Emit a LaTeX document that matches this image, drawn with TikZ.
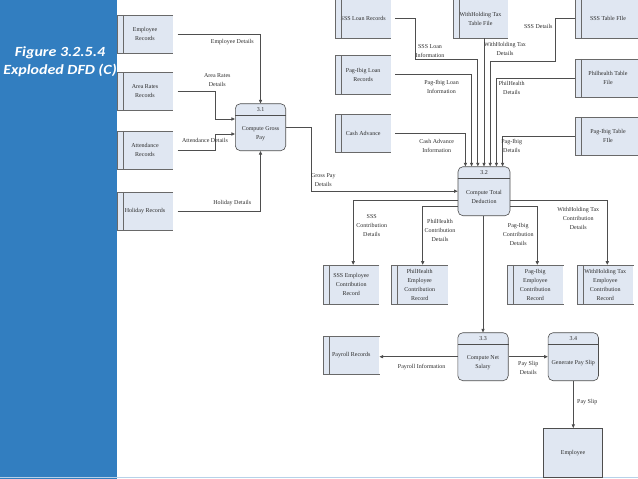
\documentclass[tikz,border=0pt]{standalone}
\usepackage{fontspec}
\setmainfont{Liberation Serif}
\newfontfamily\panelfont[FakeStretch=1.14]{Carlito}
\usetikzlibrary{arrows.meta, positioning, calc}
\definecolor{cPanel} {RGB}{50,126,192}
\definecolor{cStore} {RGB}{224,231,242}
\definecolor{cLine}  {RGB}{78,78,78}
\definecolor{cText}  {RGB}{45,45,45}

\begin{document}
\begin{tikzpicture}[
  x=1pt, y=-1pt,
  >={Triangle[length=3.6pt, width=3.2pt]},
  % ── data stores (open on the right side)
  store/.style={
    fill=cStore, align=center, inner sep=1pt, text=cText,
    font=\fontsize{6}{9}\selectfont,
    minimum width=56pt, minimum height=38pt
  },
  storeln/.style={draw=cLine!85, line width=0.6pt},
  % ── processes
  proc/.style={
    draw=cLine, fill=cStore, rounded corners=5pt, line width=0.6pt,
    minimum width=50.4pt, minimum height=47pt
  },
  entity/.style={
    draw=cLine, fill=cStore, line width=0.6pt, text=cText,
    font=\fontsize{6}{9}\selectfont,
    minimum width=59.4pt, minimum height=49pt
  },
  % ── flows
  flow/.style  ={->, draw=cLine, line width=0.7pt},
  fromst/.style={flow, shorten <=4.5pt},
  % ── labels
  lbl/.style={font=\fontsize{6}{9}\selectfont, text=cText, align=center, inner sep=0pt},
]
\useasboundingbox (0,0) rectangle (638,479);

%% ═══════════════════════════════════════════════════════════════
%%  SIDE PANEL
%% ═══════════════════════════════════════════════════════════════
\fill[cPanel] (0,0) rectangle (117,479);
\draw[cPanel!35, line width=1.5pt] (0,477.5) -- (638,477.5);
\node[text=white, align=center, inner sep=0pt,
      font=\panelfont\bfseries\itshape\fontsize{14}{17.6}\selectfont]
  (title) at (60,61.5) {Figure 3.2.5.4\\Exploded DFD (C)};

%% ═══════════════════════════════════════════════════════════════
%%  DATA STORES
%% ═══════════════════════════════════════════════════════════════
\node[store] (empRec)  at (145,34)    {Employee\\Records};
\node[store] (areaRec) at (145,91.4)  {Area Rates\\Records};
\node[store] (attRec)  at (145,150)   {Attendance\\Records};
\node[store] (holRec)  at (145,211)   {Holiday Records};

\node[store, minimum width=55pt, minimum height=39pt] (sssLoan) at (363.2,18.5)  {SSS Loan Records};
\node[store, minimum width=55pt] (pagLoan) at (363.2,74.7)  {Pag-Ibig Loan\\Records};
\node[store, minimum width=55pt, minimum height=37pt] (cashAdv) at (363.2,133.3) {Cash Advance};
\node[store, minimum width=55pt, minimum height=39pt] (whtFile) at (480.5,18.5)  {WithHolding Tax\\Table File};

\node[store, minimum width=66pt, minimum height=39pt] (sssFile)  at (608,18.5) {SSS Table FIle};
\node[store, minimum width=66pt] (philFile) at (608,78)   {Philhealth Table\\File};
\node[store, minimum width=66pt] (pagFile)  at (608,136)  {Pag-Ibig Table\\FIle};

\node[store, minimum height=39pt] (sssCon)  at (351.2,284.5) {SSS Employee\\Contribution\\Record};
\node[store, minimum height=39pt] (philCon) at (419.7,284.5) {PhilHealth\\Employee\\Contribution\\Record};
\node[store, minimum height=39pt] (pagCon)  at (535.3,284.5) {Pag-Ibig\\Employee\\Contribution\\Record};
\node[store, minimum height=39pt] (whtCon)  at (605.3,284.5) {WithHolding Tax\\Employee\\Contribution\\Record};

\node[store] (payRec) at (351.3,355.2) {Payroll Records};

% store outlines: top, left, bottom + id bar
\foreach \s in {empRec, areaRec, attRec, holRec, sssLoan, pagLoan, cashAdv,
                whtFile, sssFile, philFile, pagFile, sssCon, philCon,
                pagCon, whtCon, payRec}{
  \draw[storeln] (\s.north east) -- (\s.north west) -- (\s.south west) -- (\s.south east);
  \draw[storeln] ([xshift=6pt]\s.north west) -- ([xshift=6pt]\s.south west);
}

%% ═══════════════════════════════════════════════════════════════
%%  PROCESSES
%% ═══════════════════════════════════════════════════════════════
\node[proc] (p31) at (260.5,127.2) {};
\node[proc, minimum width=52pt, minimum height=49pt] (p32) at (484,191.2) {};
\node[proc, minimum height=48pt] (p33) at (483,356.7) {};
\node[proc, minimum height=48pt] (p34) at (573.3,356.7) {};

\foreach \p/\n in {p31/3.1, p32/3.2, p33/3.3, p34/3.4}{
  \draw[draw=cLine, line width=0.6pt] ([yshift=-12pt]\p.north west) -- ([yshift=-12pt]\p.north east);
  \node[lbl] (\p id) at ([yshift=-6pt]\p.north) {\n};
}

\node[lbl] (p31txt) at ([yshift=-6pt]p31.center) {Compute Gross\\Pay};
\node[lbl] (p32txt) at ([yshift=-6pt]p32.center) {Compute Total\\Deduction};
\node[lbl] (p33txt) at ([yshift=-6pt]p33.center) {Compute Net\\Salary};
\node[lbl] (p34txt) at ([yshift=-6pt]p34.center) {Generate Pay Slip};

% external entity
\node[entity] (emp) at (573,452.8) {Employee};

%% ═══════════════════════════════════════════════════════════════
%%  FLOWS INTO 3.1
%% ═══════════════════════════════════════════════════════════════
\coordinate (bendArea) at (215,119);
\coordinate (bendAtt)  at (215,134);

\draw[fromst] (empRec.east) -| (p31.north);
\draw[fromst] (areaRec.east) -| (bendArea) -- ([yshift=8.2pt]p31.west);
\draw[fromst] (attRec.east) -| (bendAtt) -- ([yshift=-6.8pt]p31.west);
\draw[fromst] (holRec.east) -| (p31.south);

\node[lbl] (lEmpDet)  at (232.3,42.3) {Employee Details};
\node[lbl] (lAreaDet) at (217.3,80)   {Area Rates\\Details};
\node[lbl] (lAttDet)  at (205,140.7)  {Attendance Details};
\node[lbl] (lHolDet)  at (232.3,203.3) {Holiday Details};

%% ═══════════════════════════════════════════════════════════════
%%  FLOWS INTO 3.2
%% ═══════════════════════════════════════════════════════════════
\coordinate (bendGross)   at (311,191.2);
\coordinate (bendSssLoan) at (415,59.3);
\coordinate (bendSssDet)  at (555,61);

\draw[flow] (p31.east) -| (bendGross) -- (p32.west);
\draw[fromst] (cashAdv.east) -| ([xshift=-18.6pt]p32.north);
\draw[fromst] (pagLoan.east) -| ([xshift=-12.4pt]p32.north);
\draw[fromst] (sssLoan.east) -| (bendSssLoan) -| ([xshift=-6.2pt]p32.north);
\draw[flow] (whtFile.south -| p32.north) -- (p32.north);
\draw[flow] (sssFile.west) -| (bendSssDet) -| ([xshift=6.2pt]p32.north);
\draw[flow] (philFile.west) -| ([xshift=12.4pt]p32.north);
\draw[flow] (pagFile.west) -| ([xshift=18.6pt]p32.north);

\node[lbl] (lGross)   at (323.3,180.5) {Gross Pay\\Details};
\node[lbl] (lSssLoan) at (430,51.3)    {SSS Loan\\Information};
\node[lbl] (lPagLoan) at (441.5,86.5)  {Pag-Ibig Loan\\Information};
\node[lbl] (lCash)    at (436.7,146.3) {Cash Advance\\Information};
\node[lbl] (lWhtDet)  at (505,48.8)    {WithHolding Tax\\Details};
\node[lbl] (lSssDet)  at (538.3,26.7)  {SSS Details};
\node[lbl] (lPhilDet) at (511.7,87.5)  {PhilHealth\\Details};
\node[lbl] (lPagDet)  at (511.7,146)   {Pag-Ibig\\Details};

%% ═══════════════════════════════════════════════════════════════
%%  FLOWS OUT OF 3.2
%% ═══════════════════════════════════════════════════════════════
\draw[flow] ([yshift=-8.8pt]p32.west) -| ([xshift=2pt]sssCon.north);
\draw[flow] ([yshift=-15.5pt]p32.west) -| ([xshift=3pt]philCon.north);
\draw[flow] ([yshift=-15.5pt]p32.east) -| ([xshift=2pt]pagCon.north);
\draw[flow] ([yshift=-8.8pt]p32.east) -| ([xshift=2pt]whtCon.north);
\draw[flow] (p32.south -| p33.north) -- (p33.north);

\node[lbl] (lSssCon)  at (371.7,226)   {SSS\\Contribution\\Details};
\node[lbl] (lPhilCon) at (440,230)     {PhilHealth\\Contribution\\Details};
\node[lbl] (lPagCon)  at (518.3,234)   {Pag-Ibig\\Contribution\\Details};
\node[lbl] (lWhtCon)  at (578.3,218.3) {WithHolding Tax\\Contribution\\Details};

%% ═══════════════════════════════════════════════════════════════
%%  NET SALARY / PAY SLIP
%% ═══════════════════════════════════════════════════════════════
\draw[flow] (p33.west) -- (p33.west -| payRec.east);
\draw[flow] (p33.east) -- (p34.west);
\draw[flow] (p34.south) -- (p34.south |- emp.north);

\node[lbl] (lPayInfo)    at (421.7,366.7) {Payroll Information};
\node[lbl] (lPaySlipDet) at (528.3,368)   {Pay Slip\\Details};
\node[lbl] (lPaySlip)    at (587.3,401.7) {Pay Slip};

\end{tikzpicture}
\end{document}
